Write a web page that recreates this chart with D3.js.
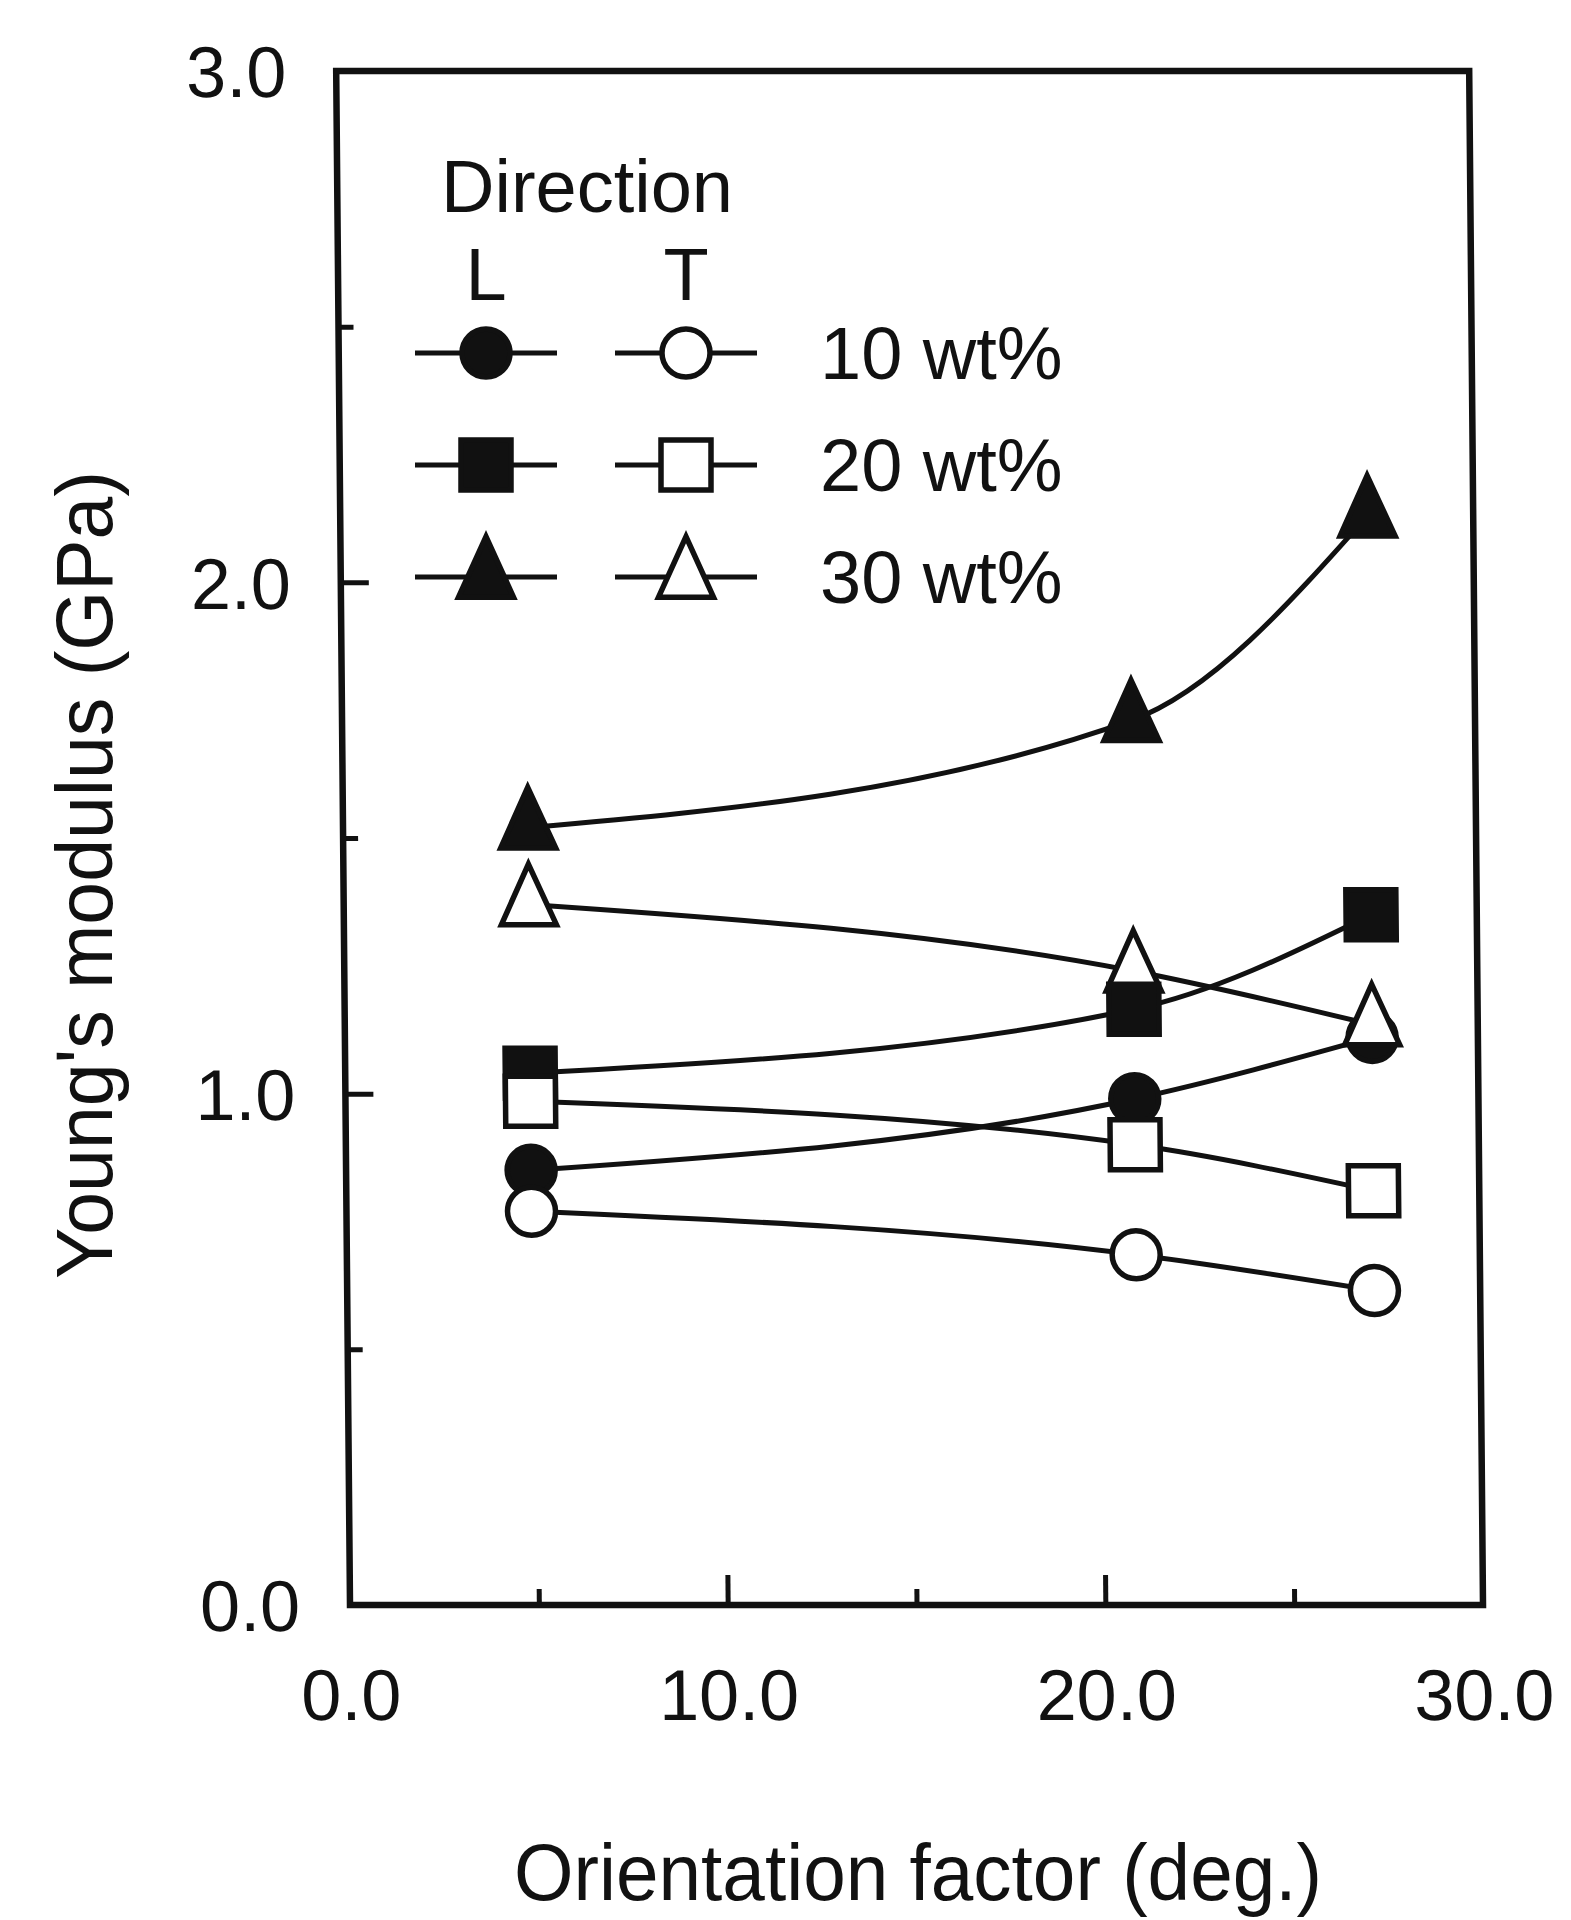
<!DOCTYPE html>
<html lang="en">
<head>
<meta charset="UTF-8">
<title>Young's modulus vs orientation factor</title>
<script src="https://cdn.jsdelivr.net/npm/d3@7"></script>
<style>
  html, body { margin: 0; padding: 0; background: #fff; }
  svg { display: block; }
  text { font-family: "Liberation Sans", Arial, Helvetica, sans-serif; fill: #111; }
</style>
</head>
<body>
<div id="container"></div>
<script>
// data
const orientation = [4.9, 20.9, 27.2];          // deg.
const modulusL10 = [0.85, 0.99, 1.11];
const modulusT10 = [0.77, 0.685, 0.615];
const modulusL20 = [1.04, 1.165, 1.35];
const modulusT20 = [0.985, 0.90, 0.81];
const modulusL30 = [1.52, 1.73, 2.13];
const modulusT30 = [1.37, 1.24, 1.135];

const contentLabels = ["10 wt%", "20 wt%", "30 wt%"];
const directionLabels = ["L", "T"];
const yMajorTicks = [0, 1, 2, 3];
const yMinorTicks = [0.5, 1.5, 2.5];
const xMajorTicks = [0, 10, 20, 30];
const xMinorTicks = [5, 15, 25];

const width = 1571;
const height = 1920;
const marginTop = 71;
const marginRight = 88;
const marginBottom = 315;
const marginLeft = 350;
const ink = "#111";

const x = d3.scaleLinear().domain([0, 30]).range([marginLeft, width - marginRight]);
const y = d3.scaleLinear().domain([0, 3]).range([height - marginBottom, marginTop]);

// tall isosceles triangle, centred on its centroid
const triangleTall = {
  draw(ctx, size) {
    const s = Math.sqrt(size);
    const w = s * 0.5, h = s * 1.1;
    ctx.moveTo(0, -h * 2 / 3);
    ctx.lineTo(w, h / 3);
    ctx.lineTo(-w, h / 3);
    ctx.closePath();
  }
};
const shapes = {
  circle: d3.symbol().type(d3.symbolCircle).size(Math.PI * 24 * 24),
  square: d3.symbol().type(d3.symbolSquare).size(50 * 50),
  triangle: d3.symbol().type(triangleTall).size(55 * 55)
};

// drawing order matters where markers overlap
const series = [
  { values: modulusL10, shape: "circle", filled: true },
  { values: modulusT30, shape: "triangle", filled: false },
  { values: modulusL20, shape: "square", filled: true },
  { values: modulusT20, shape: "square", filled: false },
  { values: modulusT10, shape: "circle", filled: false },
  { values: modulusL30, shape: "triangle", filled: true }
];

const svg = d3.create("svg")
    .attr("width", width)
    .attr("height", height)
    .attr("viewBox", [0, 0, width, height]);

svg.append("rect").attr("width", width).attr("height", height).attr("fill", "#fff");

// the scanned frame leans a little: shear it around the bottom axis
const shear = 0.009;
const plot = svg.append("g")
    .attr("transform", `translate(${-shear * y(0)},0) skewX(${Math.atan(shear) * 180 / Math.PI})`);

// axes with inward ticks
function styleAxis(g) {
  g.select(".domain").remove();
  g.selectAll(".tick line").attr("stroke", ink).attr("stroke-width", 5);
  g.selectAll(".tick text").attr("fill", ink).attr("font-size", 72)
      .attr("font-family", "'Liberation Sans', Arial, sans-serif");
}

plot.append("g")
    .attr("transform", `translate(${x(0)},0)`)
    .call(d3.axisLeft(y).tickValues(yMajorTicks).tickSize(-28).tickPadding(50).tickFormat(d3.format(".1f")))
    .call(styleAxis)
    .call(g => g.selectAll(".tick text").attr("dy", "0.36em"));

plot.append("g")
    .attr("transform", `translate(${x(0)},0)`)
    .call(d3.axisLeft(y).tickValues(yMinorTicks).tickSize(-15).tickFormat(""))
    .call(styleAxis);

plot.append("g")
    .attr("transform", `translate(0,${y(0)})`)
    .call(d3.axisBottom(x).tickValues(xMajorTicks).tickSize(-30).tickPadding(64).tickFormat(d3.format(".1f")))
    .call(styleAxis);

plot.append("g")
    .attr("transform", `translate(0,${y(0)})`)
    .call(d3.axisBottom(x).tickValues(xMinorTicks).tickSize(-16).tickFormat(""))
    .call(styleAxis);

// frame
plot.append("rect")
    .attr("x", x(0))
    .attr("y", y(3))
    .attr("width", x(30) - x(0))
    .attr("height", y(0) - y(3))
    .attr("fill", "none")
    .attr("stroke", ink)
    .attr("stroke-width", 6.5);

// curves
const line = d3.line()
    .x((d, i) => x(orientation[i]))
    .y(d => y(d))
    .curve(d3.curveMonotoneX);

plot.append("g")
    .selectAll("path")
    .data(series)
    .join("path")
    .attr("d", s => line(s.values))
    .attr("fill", "none")
    .attr("stroke", ink)
    .attr("stroke-width", 5);

// markers
series.forEach(s => {
  plot.append("g")
    .selectAll("path")
    .data(s.values)
    .join("path")
    .attr("transform", (d, i) => `translate(${x(orientation[i])},${y(d)})`)
    .attr("d", shapes[s.shape]())
    .attr("fill", s.filled ? ink : "#fff")
    .attr("stroke", ink)
    .attr("stroke-width", 5.5);
});

// legend
const legend = svg.append("g");
legend.append("text").attr("x", 441).attr("y", 212).attr("font-size", 74).text("Direction");

const legendCols = [486, 686];
directionLabels.forEach((t, j) => {
  legend.append("text")
      .attr("x", legendCols[j]).attr("y", 300)
      .attr("text-anchor", "middle").attr("font-size", 74)
      .text(t);
});

const legendShapes = ["circle", "square", "triangle"];
const legendRows = [353, 465, 577];
contentLabels.forEach((label, i) => {
  const ry = legendRows[i];
  legendCols.forEach((cx, j) => {
    legend.append("line")
        .attr("x1", cx - 71).attr("x2", cx + 71)
        .attr("y1", ry).attr("y2", ry)
        .attr("stroke", ink).attr("stroke-width", 5);
    legend.append("path")
        .attr("transform", `translate(${cx},${ry})`)
        .attr("d", shapes[legendShapes[i]]())
        .attr("fill", j === 0 ? ink : "#fff")
        .attr("stroke", ink)
        .attr("stroke-width", 5.5);
  });
  legend.append("text")
      .attr("x", 820).attr("y", ry + 26)
      .attr("font-size", 74)
      .text(label);
});

// axis titles
svg.append("text")
    .attr("x", 918).attr("y", 1900)
    .attr("text-anchor", "middle")
    .attr("font-size", 80)
    .attr("textLength", 808)
    .attr("lengthAdjust", "spacingAndGlyphs")
    .text("Orientation factor (deg.)");

svg.append("text")
    .attr("transform", "translate(112,875) rotate(-90)")
    .attr("text-anchor", "middle")
    .attr("font-size", 80)
    .attr("textLength", 808)
    .attr("lengthAdjust", "spacingAndGlyphs")
    .text("Young's modulus (GPa)");

document.getElementById("container").append(svg.node());
</script>
</body>
</html>
